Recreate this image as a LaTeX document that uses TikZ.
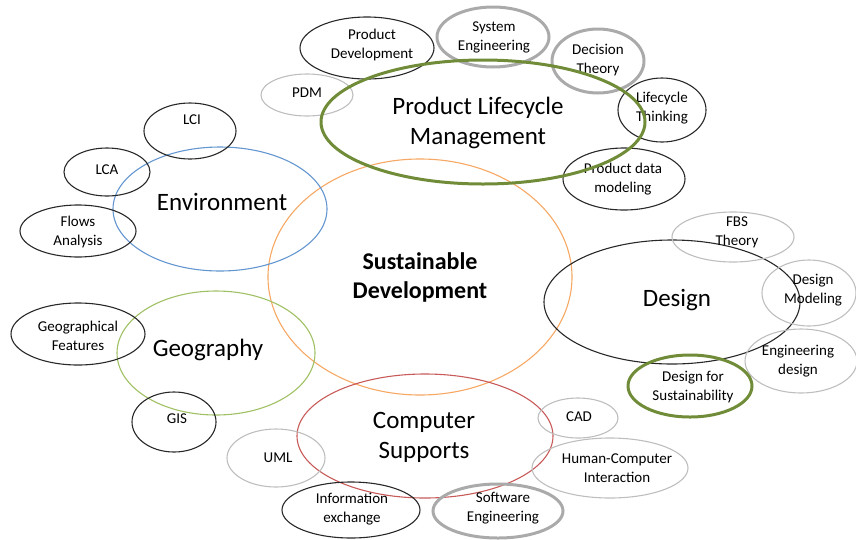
\documentclass[tikz,border=0pt]{standalone}
\usepackage{fontspec}
\setmainfont{Carlito}
\usetikzlibrary{shapes.geometric}
\definecolor{cOrange}{RGB}{246,168,100}
\definecolor{cBlue}{RGB}{100,150,208}
\definecolor{cLgreen}{RGB}{160,192,100}
\definecolor{cRed}{RGB}{200,90,90}
\definecolor{cDgreen}{RGB}{112,140,56}
\definecolor{cBlack}{RGB}{40,40,40}
\definecolor{cLgray}{RGB}{190,190,190}
\definecolor{cMgray}{RGB}{170,170,170}
\tikzset{
  ell/.style 2 args={ellipse, minimum width=#1, minimum height=#2, inner sep=0pt},
  thinblack/.style={draw=cBlack, line width=1.1pt},
  thingray/.style={draw=cLgray, line width=1.1pt},
  thickgray/.style={draw=cMgray, line width=3pt},
  thickgreen/.style={draw=cDgreen, line width=3pt},
  small/.style={align=center, font=\fontsize{15}{19}\selectfont, inner sep=0pt},
  big/.style={align=center, font=\fontsize{25}{30}\selectfont, inner sep=0pt},
  bigbold/.style={align=center, font=\fontsize{24}{29}\selectfont\bfseries, inner sep=0pt},
}
\begin{document}
\begin{tikzpicture}[x=1pt,y=-1pt]
\useasboundingbox (0,0) rectangle (856,539);
% central
\node[ell={304pt}{236pt}, draw=cOrange, line width=1.1pt] (sd) at (420,277) {};
\node[bigbold] (sdt) at (420,277) {Sustainable\\Development};
% Environment cluster
\node[ell={214pt}{124pt}, draw=cBlue, line width=1.1pt] (env) at (220,209) {};
\node[big] (envt) at (222,202) {Environment};
\node[ell={92pt}{56pt}, thinblack] (lci) at (190,131) {};
\node[small] (lcit) at (192,120) {LCI};
\node[ell={86pt}{48pt}, thinblack] (lca) at (107,172) {};
\node[small] (lcat) at (107,170) {LCA};
\node[ell={116pt}{52pt}, thinblack] (flow) at (78,231) {};
\node[small] (flowt) at (78,232) {Flows\\Analysis};
% Geography cluster
\node[ell={198pt}{124pt}, draw=cLgreen, line width=1.1pt] (geo) at (216,353) {};
\node[big] (geot) at (208,350) {Geography};
\node[ell={134pt}{62pt}, thinblack] (gf) at (78,334) {};
\node[small] (gft) at (78,336) {Geographical\\Features};
\node[ell={84pt}{60pt}, thinblack] (gis) at (174,422) {};
\node[small] (gist) at (177,419) {GIS};
% PLM cluster
\node[ell={134pt}{62pt}, thinblack] (pd) at (367,48) {};
\node[small] (pdt) at (372,45) {Product\\Development};
\node[ell={112pt}{60pt}, thickgray] (se) at (493,37) {};
\node[small] (set) at (494,37) {System\\Engineering};
\node[ell={92pt}{64pt}, thickgray] (dt) at (598,61) {};
\node[small] (dtt) at (598,60) {Decision\\Theory};
\node[ell={88pt}{64pt}, thinblack] (lt) at (662,110) {};
\node[small] (ltt) at (662,108) {Lifecycle\\Thinking};
\node[ell={122pt}{62pt}, thinblack] (pdm2) at (624,179) {};
\node[small] (pdm2t) at (623,179) {Product data\\modeling};
\node[ell={92pt}{42pt}, thingray] (pdm) at (307,95) {};
\node[small] (pdmt) at (307,93) {PDM};
\node[ell={324pt}{124pt}, thickgreen] (plm) at (483,122) {};
\node[big] (plmt) at (478,123) {Product Lifecycle\\Management};
% Design cluster
\node[ell={256pt}{124pt}, thinblack] (des) at (672,302) {};
\node[big] (dest) at (677,300) {Design};
\node[ell={122pt}{50pt}, thingray] (fbs) at (733,237) {};
\node[small] (fbst) at (737,232) {FBS\\Theory};
\node[ell={94pt}{66pt}, thingray] (dm) at (809,293) {};
\node[small] (dmt) at (813,290) {Design\\Modeling};
\node[ell={112pt}{64pt}, thingray] (ed) at (801,361) {};
\node[small] (edt) at (798,361) {Engineering\\design};
\node[ell={124pt}{62pt}, thickgreen] (dfs) at (690,386) {};
\node[small] (dfst) at (693,387) {Design for\\Sustainability};
% Computer supports cluster
\node[ell={256pt}{124pt}, draw=cRed, line width=1.1pt] (cs) at (425,436) {};
\node[big] (cst) at (424,437) {Computer\\Supports};
\node[ell={80pt}{40pt}, thingray] (cad) at (578,418) {};
\node[small] (cadt) at (579,417) {CAD};
\node[ell={156pt}{60pt}, thingray] (hci) at (610,468) {};
\node[small] (hcit) at (617,468) {Human-Computer\\Interaction};
\node[ell={98pt}{58pt}, thingray] (uml) at (276,458) {};
\node[small] (umlt) at (278,458) {UML};
\node[ell={138pt}{56pt}, thinblack] (ie) at (351,510) {};
\node[small] (iet) at (352,509) {Information\\exchange};
\node[ell={130pt}{54pt}, thickgray] (swe) at (498,511) {};
\node[small] (swet) at (503,508) {Software\\Engineering};
\end{tikzpicture}
\end{document}
